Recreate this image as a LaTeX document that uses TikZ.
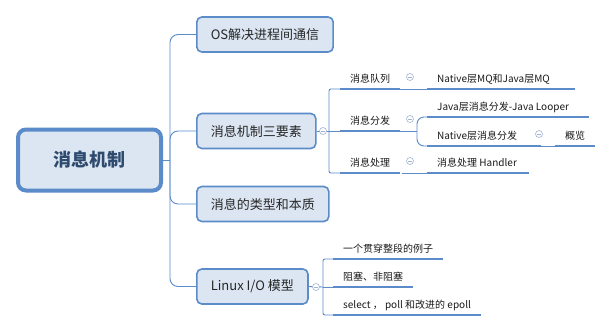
\documentclass[tikz,border=0pt]{standalone}
\usepackage{fontspec}
\setmainfont{Noto Sans CJK SC}
\usetikzlibrary{positioning, backgrounds}
\definecolor{TopicBlue}{HTML}{5B8BC9}
\definecolor{TopicFill}{HTML}{DCE6F2}
\definecolor{RootInk}{HTML}{2E4A6E}
\definecolor{FoldGray}{HTML}{A3B3D6}

\begin{document}
\begin{tikzpicture}[x=1pt, y=-1pt,
      root/.style={draw=TopicBlue, fill=TopicFill, line width=4pt, rounded corners=8pt, minimum width=143pt, minimum height=61pt, font=\fontsize{18}{20}\selectfont\bfseries, text=RootInk},
      topic/.style={draw=TopicBlue, fill=TopicFill, line width=1.6pt, rounded corners=5pt, anchor=west, minimum height=35pt, inner xsep=14pt, font=\fontsize{13}{15}\selectfont, text=black!85},
      sub/.style={anchor=south west, inner xsep=10pt, inner ysep=4pt, text height=8pt, text depth=2pt, font=\fontsize{10}{12}\selectfont, text=black!90,
        append after command={(\tikzlastnode.south west) edge[uline] ([xshift=#1]\tikzlastnode.south east)}},
      sub/.default=0pt,
      uline/.style={TopicBlue, line width=2.8pt},
      branch/.style={TopicBlue, line width=0.9pt},
      fold/.style={circle, draw=FoldGray, fill=white, minimum size=7pt, inner sep=0pt, line width=0.6pt,
        path picture={\draw[FoldGray, line width=0.6pt] ([xshift=-2pt]path picture bounding box.center) -- ([xshift=2pt]path picture bounding box.center);}}
  ]
    \useasboundingbox (0,0) rectangle (616,332);

    \node[root](msg) at (89.5,160){消息机制};
    \coordinate (hub) at (170,160);

    \node[topic](os) at (196,34.5){OS解决进程间通信};
    \node[topic](three) at (196,131){消息机制三要素};
    \node[topic](kind) at (196,204){消息的类型和本质};
    \node[topic](linux) at (196,286.5){Linux I/O 模型};

    % 三要素
    \node[fold](f3) at (323,131){};
    \coordinate (t3) at (329,131);
    \node[sub](queue) at (340,89){消息队列};
    \node[sub](dispatch) at (340,131){消息分发};
    \node[sub](handle) at (340,173){消息处理};
    \node[fold](fq) at (410,77){};
    \node[fold](fd) at (410,119){};
    \node[fold](fh) at (410,161){};
    \node[sub=15pt](mq) at (427,89){Native层MQ和Java层MQ};
    \coordinate (dfork) at (417,131);
    \node[sub=10pt](looper) at (427,117){Java层消息分发-Java Looper};
    \node[sub=14pt](native) at (427,146){Native层消息分发};
    \node[fold](fn) at (539,134){};
    \node[sub](view) at (555,146){概览};
    \node[sub=2pt](handler) at (427,173){消息处理 Handler};

    % I/O 模型
    \node[fold](fl) at (316,287){};
    \coordinate (tl) at (323,287);
    \node[sub](demo) at (333,259){一个贯穿整段的例子};
    \node[sub](block) at (333,287){阻塞、非阻塞};
    \node[sub](select) at (333,315){select ， poll 和改进的 epoll};

    \begin{scope}[on background layer]
      \draw[branch] (msg.east) -- (hub);
      \foreach \t in {os,three,kind,linux}
        \draw[branch, rounded corners=8pt] (hub) |- (\t.west);
      \draw[branch] (three.east) -- (t3);
      \draw[branch] (t3) -- (dispatch.south west);
      \foreach \s in {queue,handle}
        \draw[branch, rounded corners=2pt] (t3) |- (\s.south west);
      \draw[branch] (queue.south east) -- (mq.south west);
      \draw[branch] (dispatch.south east) -- (dfork);
      \foreach \s in {looper,native}
        \draw[branch, rounded corners=7pt] (dfork) |- (\s.south west);
      \draw[branch] ([xshift=14pt]native.south east) -- (view.south west);
      \draw[branch] ([xshift=2pt]handle.south east) -- (handler.south west);
      \draw[branch] (linux.east) -- (tl);
      \draw[branch] (tl) -- (block.south west);
      \foreach \s in {demo,select}
        \draw[branch, rounded corners=2pt] (tl) |- (\s.south west);
    \end{scope}
  \end{tikzpicture}
\end{document}
